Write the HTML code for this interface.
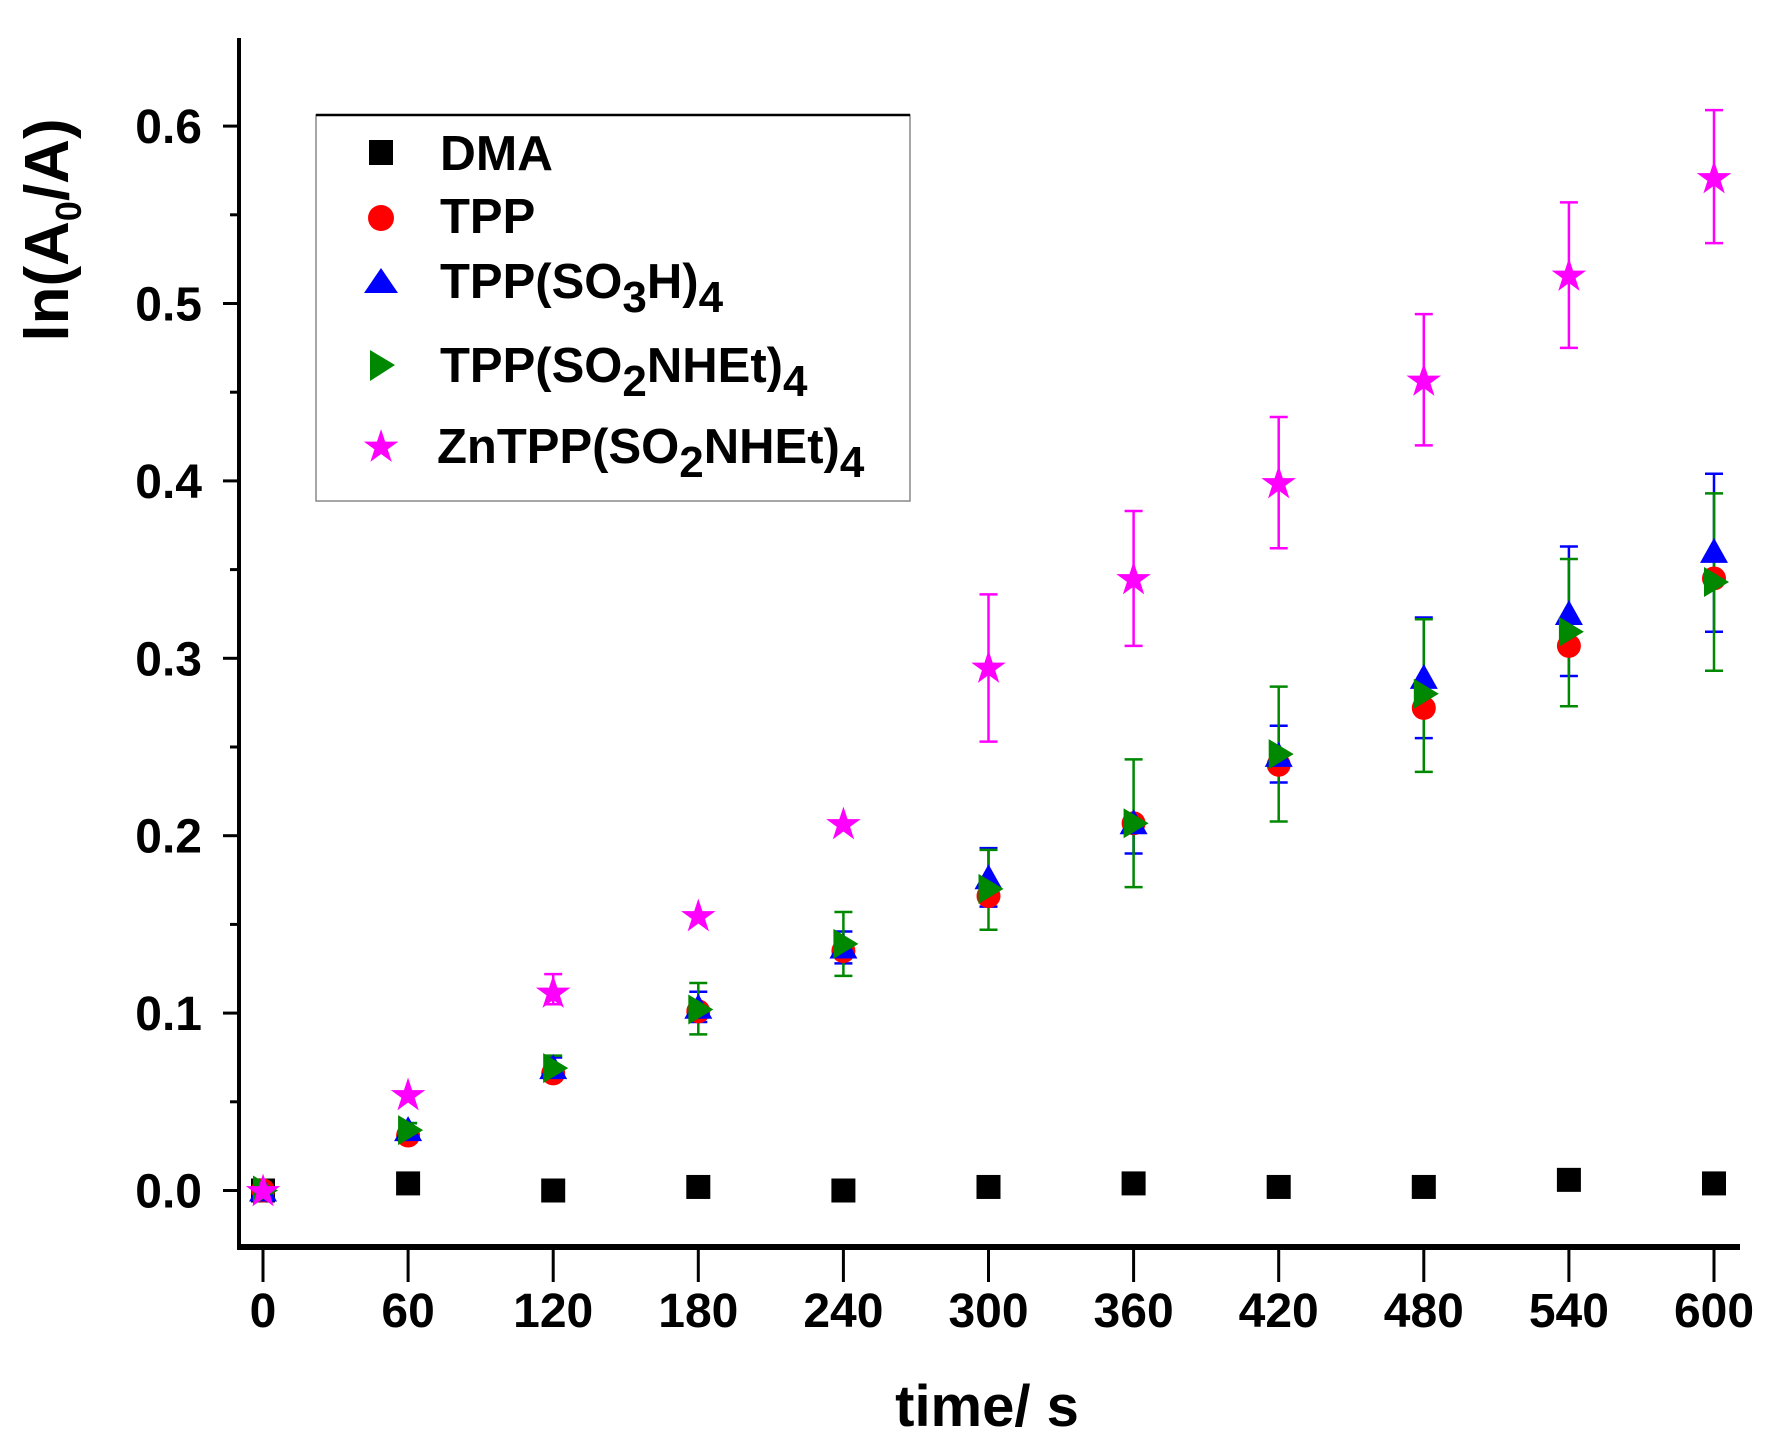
<!DOCTYPE html>
<html><head><meta charset="utf-8"><style>
html,body{margin:0;padding:0;background:#fff;}
svg{display:block;font-family:"Liberation Sans",Arial,sans-serif;font-weight:bold;}
</style></head><body>
<svg id="s" width="1783" height="1450" viewBox="0 0 1783 1450" xmlns="http://www.w3.org/2000/svg">
<rect width="1783" height="1450" fill="#fff"/>
<g id="g"></g>
<line x1="239" y1="38" x2="239" y2="1249" stroke="#000" stroke-width="4"/>
<line x1="237" y1="1247" x2="1740" y2="1247" stroke="#000" stroke-width="6"/>
<text x="68" y="230" font-size="62" text-anchor="middle" transform="rotate(-90 68 230)">ln(A<tspan font-size="36" dy="13">0</tspan><tspan dy="-13">/A)</tspan></text>
<text x="987" y="1426" font-size="58" text-anchor="middle">time/ s</text>
<rect x="316" y="115" width="594" height="386" fill="#fff" stroke="#888" stroke-width="1.5"/>
<line x1="316" y1="115" x2="910" y2="115" stroke="#000" stroke-width="2.5"/>
<rect x="369" y="140" width="24" height="25" fill="#000"/>
<text x="440" y="170" font-size="49" textLength="113" lengthAdjust="spacingAndGlyphs">DMA</text>
<circle cx="381" cy="218" r="13" fill="#f00"/>
<text x="440" y="233" font-size="49">TPP</text>
<polygon points="381,268 364,293 398,293" fill="#00f"/>
<text x="440" y="298" font-size="49">TPP(SO<tspan font-size="44" dy="14">3</tspan><tspan dy="-14">H)</tspan><tspan font-size="44" dy="14">4</tspan></text>
<polygon points="370,350 395,365 370,381" fill="#080"/>
<text x="440" y="382" font-size="49">TPP(SO<tspan font-size="44" dy="14">2</tspan><tspan dy="-14">NHEt)</tspan><tspan font-size="44" dy="14">4</tspan></text>
<text x="381" y="460" font-size="40" fill="#f0f" text-anchor="middle">★</text>
<text x="437" y="463" font-size="49">ZnTPP(SO<tspan font-size="44" dy="14">2</tspan><tspan dy="-14">NHEt)</tspan><tspan font-size="44" dy="14">4</tspan></text>
</svg>
<script>
var NS="http://www.w3.org/2000/svg",s=document.getElementById("s"),g=document.getElementById("g");
function el(n,a,p){var e=document.createElementNS(NS,n);for(var k in a)e.setAttribute(k,a[k]);(p||s).appendChild(e);return e;}
function X(t){return 263+t*(1451/600);}
function Y(v){return 1190.5-v*1774;}
for(var i=0;i<=12;i++){var v=i*0.05,y=Y(v),maj=i%2==0;
 el("line",{x1:maj?223:230,y1:y,x2:239,y2:y,stroke:"#000","stroke-width":3});
 if(maj){var t=el("text",{x:202,y:y+17,"font-size":48,"text-anchor":"end"});t.textContent=(v).toFixed(1);}}
for(var i=0;i<=10;i++){var x=X(i*60);
 el("line",{x1:x,y1:1250,x2:x,y2:1282,stroke:"#000","stroke-width":3});
 var t=el("text",{x:x,y:1327,"font-size":48,"text-anchor":"middle"});t.textContent=i*60;}
var T=[0,60,120,180,240,300,360,420,480,540,600];
var dma=[0,.004,0,.002,0,.002,.004,.002,.002,.006,.004];
var tpp=[0,.031,.066,.101,.135,.166,.207,.240,.272,.307,.345];
var so3=[0,.034,.069,.103,.137,.176,.207,.245,.289,.325,.36];
var so3e=[[0,0],[.03,.038],[.064,.075],[.095,.112],[.128,.146],[.16,.193],[.19,.21],[.23,.262],[.255,.323],[.29,.363],[.315,.404]];
var gr=[0,.034,.069,.102,.139,.17,.207,.246,.28,.315,.343];
var gre=[[0,0],[.03,.038],[.062,.076],[.088,.117],[.121,.157],[.147,.192],[.171,.243],[.208,.284],[.236,.322],[.273,.356],[.293,.393]];
var mg=[0,.054,.112,.155,.207,.295,.345,.399,.457,.516,.571];
var mge=[[0,0],[0,0],[.105,.122],[0,0],[0,0],[.253,.336],[.307,.383],[.362,.436],[.42,.494],[.475,.557],[.534,.609]];
function eb(x,lo,hi,c){if(hi-lo<.004)return;el("line",{x1:x,y1:Y(lo),x2:x,y2:Y(hi),stroke:c,"stroke-width":2.5},g);
 [lo,hi].forEach(function(v){el("line",{x1:x-9,y1:Y(v),x2:x+9,y2:Y(v),stroke:c,"stroke-width":2.5},g);});}
for(var i=0;i<11;i++){var x=X(T[i]);
 eb(x,so3e[i][0],so3e[i][1],"#00f");eb(x,gre[i][0],gre[i][1],"#080");eb(x,mge[i][0],mge[i][1],"#f0f");}
for(var i=0;i<11;i++){var x=X(T[i]);
 el("rect",{x:x-12,y:Y(dma[i])-12,width:24,height:24,fill:"#000"},g);
 el("circle",{cx:x,cy:Y(tpp[i]),r:12,fill:"#f00"},g);
 var y=Y(so3[i]);el("polygon",{points:(x)+","+(y-14)+" "+(x-14)+","+(y+11)+" "+(x+14)+","+(y+11),fill:"#00f"},g);
 y=Y(gr[i]);el("polygon",{points:(x-10)+","+(y-15)+" "+(x+15)+","+y+" "+(x-10)+","+(y+15),fill:"#080"},g);
 var t=el("text",{x:x,y:Y(mg[i])+14,"font-size":40,fill:"#f0f","text-anchor":"middle"},g);t.textContent="★";}
</script>
</body></html>
